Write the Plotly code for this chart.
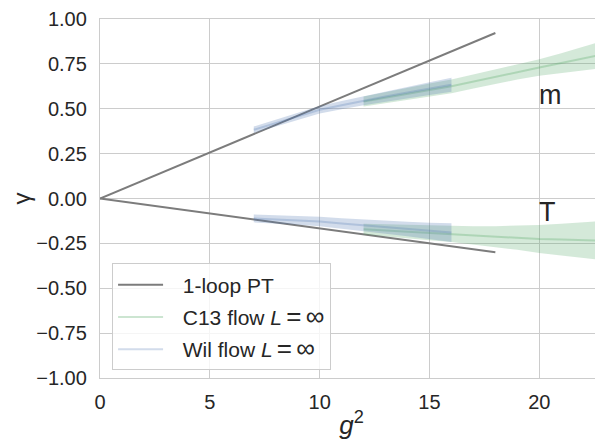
import plotly.graph_objects as go

# ---- data ----
g2_pt = [0, 18]
m_pt = [0, 0.922]
T_pt = [0, -0.300]

g2_c13 = [12, 13, 14, 15, 16, 17, 18, 19, 20, 21, 22, 23]
m_c13 = [0.54, 0.563, 0.585, 0.605, 0.625, 0.652, 0.68, 0.705, 0.73, 0.755, 0.78, 0.805]
m_c13_err = [0.028, 0.03, 0.033, 0.036, 0.038, 0.039, 0.04, 0.042, 0.046, 0.054, 0.065, 0.076]
T_c13 = [-0.171, -0.178, -0.185, -0.192, -0.198, -0.205, -0.212, -0.219, -0.226, -0.229, -0.232, -0.235]
T_c13_err = [0.03, 0.034, 0.038, 0.041, 0.044, 0.05, 0.058, 0.067, 0.078, 0.088, 0.1, 0.11]

g2_wil = [7, 8, 9, 10, 11, 12, 13, 14, 15, 16]
m_wil = [0.383, 0.42, 0.458, 0.494, 0.52, 0.545, 0.568, 0.59, 0.612, 0.634]
m_wil_err = [0.018, 0.019, 0.02, 0.021, 0.023, 0.025, 0.028, 0.031, 0.035, 0.039]
T_wil = [-0.111, -0.116, -0.122, -0.128, -0.139, -0.15, -0.16, -0.17, -0.18, -0.19]
T_wil_err = [0.022, 0.023, 0.024, 0.026, 0.029, 0.032, 0.036, 0.04, 0.045, 0.052]

y_ticks = [-1.0, -0.75, -0.5, -0.25, 0.0, 0.25, 0.5, 0.75, 1.0]
x_ticks = [0, 5, 10, 15, 20]

FONT = "Liberation Sans, Arial, sans-serif"
TXT = "#262626"
GRID = "#cccccc"
GREEN = "85,168,104"
BLUE = "76,114,176"

PAD = "\u2002\u2009"
MATH_INF = ("<i>L</i>\u2009<span style='font-size:26px'>=</span>\u2009"
            "<span style='font-size:26px'>∞</span>")

fig = go.Figure()


def band(x, y, e, rgb, alpha, group):
    up = [a + b for a, b in zip(y, e)]
    lo = [a - b for a, b in zip(y, e)]
    fig.add_trace(go.Scatter(
        x=list(x) + list(x)[::-1], y=up + lo[::-1], fill="toself",
        fillcolor=f"rgba({rgb},{alpha})", line=dict(width=0),
        mode="lines", showlegend=False, hoverinfo="skip", legendgroup=group))


# PT lines
fig.add_trace(go.Scatter(x=g2_pt, y=m_pt, mode="lines", name=PAD + "1-loop PT",
                         line=dict(color="#7c7c7c", width=2), legendgroup="pt"))
fig.add_trace(go.Scatter(x=g2_pt, y=T_pt, mode="lines", showlegend=False,
                         line=dict(color="#7c7c7c", width=2), legendgroup="pt"))

# C13 flow
band(g2_c13, m_c13, m_c13_err, GREEN, 0.25, "c13")
band(g2_c13, T_c13, T_c13_err, GREEN, 0.25, "c13")
fig.add_trace(go.Scatter(x=g2_c13, y=m_c13, mode="lines", name=PAD + "C13 flow " + MATH_INF,
                         line=dict(color=f"rgba({GREEN},0.3)", width=2), legendgroup="c13"))
fig.add_trace(go.Scatter(x=g2_c13, y=T_c13, mode="lines", showlegend=False,
                         line=dict(color=f"rgba({GREEN},0.3)", width=2), legendgroup="c13"))

# Wil flow
band(g2_wil, m_wil, m_wil_err, BLUE, 0.25, "wil")
band(g2_wil, T_wil, T_wil_err, BLUE, 0.25, "wil")
fig.add_trace(go.Scatter(x=g2_wil, y=m_wil, mode="lines", name=PAD + "Wil flow " + MATH_INF,
                         line=dict(color=f"rgba({BLUE},0.25)", width=2), legendgroup="wil"))
fig.add_trace(go.Scatter(x=g2_wil, y=T_wil, mode="lines", showlegend=False,
                         line=dict(color=f"rgba({BLUE},0.25)", width=2), legendgroup="wil"))

fig.add_annotation(x=20, y=0.575, text="m", showarrow=False, xanchor="left", yanchor="middle",
                   font=dict(size=27, color=TXT, family=FONT), xshift=-2)
fig.add_annotation(x=20, y=-0.075, text="T", showarrow=False, xanchor="left", yanchor="middle",
                   font=dict(size=27, color=TXT, family=FONT), xshift=-2)

# y-axis label (rotated, placed left of the tick labels)
fig.add_annotation(xref="paper", yref="paper", x=0, y=0.5, xshift=-79, text="γ",
                   textangle=-90, showarrow=False, xanchor="center", yanchor="middle",
                   font=dict(size=24, color=TXT, family=FONT), borderpad=0)

# page body has an 8px margin, so the figure is sized/margined to compensate
fig.update_layout(
    width=595, height=435,
    margin=dict(l=92, r=0, t=9, b=65),
    paper_bgcolor="white", plot_bgcolor="white",
    font=dict(family=FONT, size=20, color=TXT),
    legend=dict(x=0.024, y=0.319, xanchor="left", yanchor="top",
                bgcolor="rgba(255,255,255,0.8)", bordercolor=GRID, borderwidth=1,
                font=dict(size=21, color=TXT, family=FONT), itemwidth=45,
                traceorder="grouped", tracegroupgap=2),
    xaxis=dict(range=[0, 22.9], tickvals=x_ticks, ticktext=[str(v) for v in x_ticks],
               showgrid=True, gridcolor=GRID, gridwidth=1.2, zeroline=False,
               showline=True, linecolor=GRID, linewidth=1.3, mirror=True,
               ticks="", ticklabelstandoff=6, tickfont=dict(size=20),
               ticklabeloverflow="allow",
               title=dict(text="<i>g</i><sup>2</sup>", font=dict(size=26, color=TXT, family=FONT),
                          standoff=3)),
    yaxis=dict(range=[-1, 1], tickvals=y_ticks, tickformat=".2f",
               showgrid=True, gridcolor=GRID, gridwidth=1.2, zeroline=False,
               showline=True, linecolor=GRID, linewidth=1.3,
               ticks="", ticklabelstandoff=8, tickfont=dict(size=20),
               ticklabeloverflow="allow"),
)

fig.write_html("out.html", config={"displayModeBar": False})
